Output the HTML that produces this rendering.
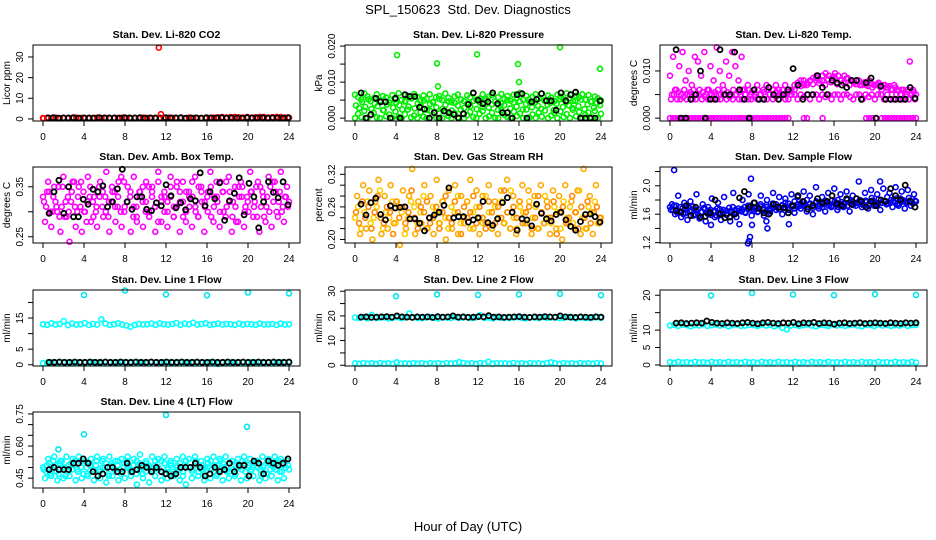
<!DOCTYPE html>
<html><head><meta charset="utf-8"><style>
body{margin:0;background:#fff;}
svg{display:block;font-family:"Liberation Sans",sans-serif;}
</style></head><body>
<svg id="chart" width="936" height="540" viewBox="0 0 936 540" xmlns="http://www.w3.org/2000/svg">
<rect width="936" height="540" fill="#fff"/>
<text x="468" y="14" text-anchor="middle" font-size="13" style="white-space:pre">SPL_150623  Std. Dev. Diagnostics</text>
<text x="468" y="531" text-anchor="middle" font-size="13">Hour of Day (UTC)</text>
</svg>
<script>
const hourTicks=[0,4,8,12,16,20,24];
const panelTitles=["Stan. Dev. Li-820 CO2","Stan. Dev. Li-820 Pressure","Stan. Dev. Li-820 Temp.","Stan. Dev. Amb. Box Temp.","Stan. Dev. Gas Stream RH","Stan. Dev. Sample Flow","Stan. Dev. Line 1 Flow","Stan. Dev. Line 2 Flow","Stan. Dev. Line 3 Flow","Stan. Dev. Line 4 (LT) Flow"];
const yTitles=["Licor ppm","kPa","degrees C","degrees C","percent","ml/min","ml/min","ml/min","ml/min","ml/min"];
const yLims=[[-1,35.8],[-0.0008,0.0203],[-0.0006,0.0155],[0.2375,0.3896],[0.1935,0.3335],[1.195,2.264],[-0.4,24],[-0.3,30.5],[-0.3,21.5],[0.404,0.759]];
const yTicks=[[0,10,20,30],[0,0.005,0.01,0.015,0.02],[0,0.005,0.01],[0.25,0.3,0.35],[0.2,0.22,0.24,0.26,0.28,0.3,0.32],[1.2,1.4,1.6,1.8,2.0,2.2],[0,5,10,15,20],[0,5,10,15,20,25,30],[0,5,10,15,20],[0.45,0.5,0.55,0.6,0.65,0.7,0.75]];
const yTickLabels=[["0","10","20","30"],["0.000","","0.010","","0.020"],["0.000","","0.010"],["0.25","","0.35"],["0.20","","","0.26","","","0.32"],["1.2","","1.6","","2.0",""],["0","5","","15",""],["0","","10","","20","","30"],["0","5","10","","20"],["0.45","","","0.60","","","0.75"]];

const co2Red=[0.4,0.5,0.3,0.6,0.4,0.5,0.3,0.4,0.6,0.5,0.4,0.3,0.5,0.6,0.4,0.5,0.3,0.4,0.5,0.6,0.4,0.3,0.5,0.4,0.6,0.5,0.4,0.3,0.5,0.4,0.6,0.5,0.4,0.5,0.3,0.6,0.4,0.5,0.4,0.3,0.5,0.6,0.8,0.9,0.7,0.9,1.0,0.8,0.7,0.9,0.6,0.8,1.0,0.9,0.7,0.8,1.0,0.9,0.7,0.6];
const co2Black=[0.5,0.6,0.4,0.5,0.5,0.6,0.4,0.5,0.5,0.4,0.6,0.5,0.5,0.5,0.4,0.6,0.5,0.5,0.6,0.4,0.5,0.5,0.4,0.6,0.5,0.5,0.6,0.4,0.5,0.5,0.4,0.6,0.5,0.5,0.6,0.4,0.5,0.5,0.4,0.6,0.5,0.5,0.6,0.4,0.5,0.5,0.4,0.6];
const co2OutHours=[11.3,11.5,0.05];
const co2OutVals=[34.5,2.3,0.3];

const pressGreenA=[0.0065,0.0058,0.0052,0.0068,0.0060,0.0047,0.0055,0.0066,0.0049,0.0061,0.0057,0.0043,0.0064,0.0052,0.0069,0.0050,0.0046,0.0062,0.0055,0.0067,0.0059,0.0048,0.0063,0.0053,0.0066,0.0045,0.0058,0.0061,0.0050,0.0068,0.0056,0.0044,0.0060,0.0065,0.0052,0.0047,0.0063,0.0057,0.0069,0.0051,0.0054,0.0066,0.0049,0.0060,0.0064,0.0046,0.0058,0.0067,0.0053,0.0061,0.0048,0.0065,0.0056,0.0070,0.0051,0.0062,0.0045,0.0059,0.0066,0.0054,0.0068,0.0050,0.0063,0.0057,0.0047,0.0065,0.0060,0.0052,0.0069,0.0055,0.0048,0.0062,0.0058,0.0066,0.0051,0.0064,0.0046,0.0060,0.0055,0.0049];
const pressGreenB=[0.0000,0.0012,0.0003,0.0020,0.0000,0.0008,0.0015,0.0002,0.0000,0.0022,0.0005,0.0010,0.0000,0.0018,0.0003,0.0000,0.0011,0.0024,0.0002,0.0007,0.0000,0.0016,0.0004,0.0000,0.0021,0.0009,0.0001,0.0013,0.0000,0.0019,0.0006,0.0000,0.0014,0.0002,0.0023,0.0000,0.0008,0.0017,0.0003,0.0000,0.0012,0.0020,0.0000,0.0005,0.0015,0.0001,0.0000,0.0022,0.0009,0.0003,0.0000,0.0018,0.0006,0.0013,0.0000,0.0024,0.0002,0.0010,0.0000,0.0016,0.0004,0.0021,0.0000,0.0007,0.0014,0.0000,0.0019,0.0003,0.0011,0.0000,0.0023,0.0005,0.0017,0.0000,0.0009,0.0015,0.0002,0.0020,0.0000,0.0012];
const pressGreenC=[0.0035,0.0028,0.0045,0.0031,0.0052,0.0025,0.0040,0.0033,0.0048,0.0022,0.0038,0.0050,0.0029,0.0043,0.0036,0.0024,0.0047,0.0032,0.0055,0.0027,0.0041,0.0034,0.0049,0.0023,0.0039,0.0044,0.0030,0.0053,0.0026,0.0037,0.0046,0.0021,0.0042,0.0035,0.0051,0.0028,0.0040,0.0033,0.0048,0.0025,0.0044,0.0031,0.0054,0.0029,0.0038,0.0046,0.0023,0.0041,0.0036,0.0050,0.0027,0.0043,0.0032,0.0047,0.0024,0.0039,0.0052,0.0030,0.0045,0.0034,0.0026,0.0049,0.0037,0.0042,0.0022,0.0040,0.0053,0.0031,0.0044,0.0035,0.0028,0.0048,0.0033,0.0051,0.0025,0.0038,0.0046,0.0029,0.0042,0.0036];
const pressBlack=[0.007,0.000,0.001,0.0055,0.0045,0.0045,0.000,0.0055,0.000,0.0065,0.006,0.006,0.003,0.0025,0.000,0.0015,0.000,0.002,0.0015,0.001,0.000,0.0012,0.0038,0.007,0.005,0.004,0.0045,0.007,0.004,0.0015,0.0015,0.000,0.0065,0.0068,0.000,0.0045,0.0052,0.0068,0.0048,0.0048,0.0022,0.007,0.0048,0.0065,0.0072,0.000,0.000,0.000,0.000,0.0048];
const pressOutHours=[4.1,8.0,8.1,11.9,15.9,16.0,20.0,23.9];
const pressOutVals=[0.0175,0.0152,0.0088,0.0177,0.0150,0.0100,0.0197,0.0137];

const tempMagA=[0,0,0,0,0,0,0,0,0,0,0,0,0,0,0,0,0,0,0,0,0,0,0,0,0,0,0,0,0,0,0,0,0,0,0,0,0,0,0,null,null,null,null,0,0,null,null,null,null,0,null,null,null,null,null,null,null,null,null,null,null,null,null,0,0,0,null,null,0,0,0,0,0,0,0,0,0,0,0,0];
const tempMagB=[0.004,0.005,0.004,0.004,0.0045,0.004,0.005,0.004,0.004,0.005,0.004,0.0045,0.004,0.004,0.005,0.004,0.004,0.005,0.004,0.0045,0.004,0.005,0.004,0.004,0.005,0.004,0.004,0.0045,0.004,0.005,0.004,0.004,0.005,0.004,0.0045,0.004,0.005,0.004,0.004,0.005,0.005,0.004,0.005,0.0045,0.005,0.004,0.005,0.005,0.004,0.005,0.0045,0.005,0.004,0.005,0.005,0.004,0.005,0.005,0.0045,0.004,0.005,0.005,0.004,0.005,0.0045,0.005,0.004,0.005,0.005,0.004,0.005,0.004,0.004,0.005,0.004,0.004,0.005,0.004,0.005,0.004];
const tempMagC=[0.009,0.013,0.006,0.011,0.014,0.008,0.010,0.007,0.013,0.012,0.009,0.014,0.006,0.011,0.008,0.015,0.010,0.007,0.012,0.009,0.014,0.011,0.008,0.013,0.006,0.007,0.005,0.006,0.007,0.005,0.006,0.007,0.005,0.006,0.007,0.006,0.005,0.007,0.006,0.005,0.006,0.007,0.008,0.007,0.0075,0.008,0.0085,0.009,0.008,0.009,0.0095,0.009,0.0085,0.0095,0.009,0.008,0.009,0.0085,0.008,0.0075,0.008,0.007,0.0075,0.007,0.008,0.0065,0.007,0.0075,0.006,0.007,0.0065,0.006,0.007,0.006,0.005,0.006,0.005,0.012,0.006,0.005];
const tempMagD=[0.005,0.006,0.0055,0.005,0.006,0.005,0.0055,0.006,0.005,0.006,0.0055,0.005,0.006,0.005,0.0055,0.006,0.005,0.006,0.0055,0.005,0.006,0.005,0.0055,0.006,0.005,0.006,0.0055,0.005,0.006,0.005,0.0055,0.006,0.005,0.006,0.0055,0.005,0.006,0.005,0.0055,0.006,0.007,0.0075,0.0068,0.008,0.007,0.0078,0.0072,0.0085,0.0074,0.008,0.007,0.0082,0.0076,0.0088,0.0072,0.008,0.0075,0.0084,0.007,0.0078,0.0072,0.008,0.007,0.0076,0.0068,0.0074,0.007,0.0072,0.0066,0.007,0.0065,0.0068,0.006,0.0065,0.0058,0.006,0.0055,0.006,0.0052,0.0055];
const tempBlack=[0.0145,0.0,0.0,0.004,0.005,0.010,0.0,0.004,0.004,0.0145,0.005,0.005,0.014,0.006,0.004,0.0,0.006,0.004,0.004,0.0065,0.005,0.004,0.005,0.006,0.0105,0.007,0.004,0.005,0.005,0.009,0.0065,0.005,0.008,0.0075,0.007,0.0065,0.008,0.008,0.004,0.0075,0.0085,0.0,0.0068,0.004,0.004,0.004,0.004,0.004,0.0065,0.0042];

const ambMagA=[0.33,0.31,0.34,0.30,0.32,0.35,0.31,0.29,0.33,0.32,0.36,0.30,0.31,0.34,0.28,0.33,0.32,0.30,0.35,0.31,0.33,0.29,0.32,0.34,0.31,0.30,0.36,0.32,0.33,0.29,0.31,0.34,0.32,0.30,0.35,0.33,0.31,0.28,0.32,0.34,0.30,0.33,0.31,0.36,0.32,0.29,0.34,0.31,0.33,0.30,0.35,0.32,0.31,0.34,0.29,0.33,0.32,0.36,0.30,0.31,0.34,0.32,0.28,0.33,0.35,0.31,0.30,0.34,0.32,0.36,0.31,0.29,0.33,0.35,0.32,0.30,0.34,0.31,0.33,0.32];
const ambMagB=[0.32,0.34,0.30,0.33,0.31,0.29,0.35,0.32,0.30,0.34,0.31,0.33,0.36,0.30,0.32,0.35,0.29,0.31,0.33,0.34,0.30,0.32,0.35,0.31,0.33,0.37,0.30,0.32,0.34,0.31,0.29,0.33,0.35,0.32,0.30,0.34,0.31,0.36,0.33,0.30,0.32,0.35,0.29,0.31,0.34,0.32,0.30,0.33,0.36,0.31,0.29,0.34,0.32,0.30,0.35,0.31,0.33,0.30,0.34,0.36,0.32,0.29,0.31,0.35,0.33,0.30,0.32,0.34,0.31,0.29,0.35,0.33,0.31,0.30,0.36,0.34,0.32,0.30,0.33,0.31];
const ambMagC=[0.28,0.36,0.27,0.35,0.30,0.26,0.37,0.29,0.24,0.36,0.27,0.35,0.26,0.30,0.37,0.28,0.33,0.27,0.36,0.29,0.38,0.26,0.34,0.28,0.36,0.27,0.31,0.35,0.26,0.37,0.28,0.34,0.27,0.36,0.29,0.35,0.26,0.38,0.28,0.33,0.27,0.37,0.29,0.35,0.26,0.36,0.28,0.34,0.27,0.37,0.29,0.35,0.26,0.33,0.38,0.28,0.36,0.27,0.34,0.29,0.37,0.26,0.35,0.28,0.36,0.27,0.33,0.38,0.29,0.35,0.26,0.34,0.28,0.37,0.27,0.36,0.29,0.38,0.28,0.35];
const ambBlack=[0.297,0.340,0.363,0.297,0.350,0.290,0.290,0.325,0.315,0.345,0.340,0.352,0.310,0.320,0.346,0.385,0.320,0.305,0.330,0.330,0.305,0.302,0.318,0.312,0.354,0.332,0.308,0.318,0.304,0.326,0.322,0.378,0.312,0.340,0.326,0.358,0.283,0.322,0.337,0.368,0.294,0.357,0.330,0.268,0.320,0.360,0.339,0.328,0.360,0.314];

const rhOrangeA=[0.25,0.23,0.27,0.24,0.26,0.22,0.25,0.28,0.24,0.23,0.26,0.25,0.21,0.27,0.24,0.26,0.23,0.25,0.29,0.24,0.22,0.26,0.25,0.27,0.23,0.24,0.26,0.22,0.25,0.28,0.24,0.23,0.27,0.25,0.21,0.26,0.24,0.25,0.28,0.23,0.26,0.24,0.22,0.27,0.25,0.23,0.26,0.24,0.29,0.25,0.22,0.26,0.24,0.27,0.23,0.25,0.26,0.22,0.24,0.28,0.25,0.23,0.26,0.24,0.27,0.21,0.25,0.26,0.23,0.24,0.28,0.25,0.22,0.26,0.24,0.27,0.23,0.25,0.26,0.24];
const rhYellowB=[0.24,0.26,0.22,0.25,0.27,0.23,0.24,0.26,0.29,0.22,0.25,0.24,0.27,0.23,0.26,0.25,0.21,0.24,0.27,0.26,0.23,0.25,0.28,0.22,0.24,0.26,0.25,0.23,0.27,0.24,0.22,0.26,0.25,0.28,0.23,0.24,0.27,0.22,0.25,0.26,0.24,0.23,0.28,0.25,0.22,0.26,0.24,0.27,0.23,0.25,0.29,0.24,0.22,0.26,0.25,0.23,0.27,0.24,0.26,0.22,0.25,0.28,0.24,0.23,0.26,0.25,0.22,0.27,0.24,0.26,0.23,0.25,0.29,0.24,0.22,0.26,0.25,0.27,0.23,0.24];
const rhOrangeC=[0.28,0.21,0.30,0.22,0.29,0.20,0.27,0.31,0.21,0.28,0.22,0.30,0.23,0.27,0.19,0.29,0.22,0.28,0.33,0.21,0.27,0.23,0.30,0.22,0.28,0.21,0.31,0.23,0.27,0.20,0.29,0.22,0.30,0.21,0.28,0.23,0.27,0.31,0.22,0.29,0.21,0.28,0.23,0.30,0.22,0.27,0.21,0.29,0.23,0.31,0.22,0.28,0.21,0.27,0.30,0.23,0.29,0.21,0.28,0.22,0.30,0.23,0.27,0.21,0.29,0.22,0.28,0.20,0.30,0.23,0.27,0.22,0.29,0.21,0.33,0.22,0.28,0.21,0.30,0.23];
const rhBlack=[0.265,0.245,0.268,0.276,0.246,0.236,0.262,0.258,0.259,0.260,0.238,0.238,0.230,0.216,0.240,0.245,0.250,0.263,0.295,0.240,0.242,0.242,0.232,0.236,0.240,0.270,0.231,0.226,0.238,0.268,0.277,0.250,0.217,0.238,0.236,0.225,0.265,0.248,0.238,0.234,0.246,0.250,0.236,0.224,0.217,0.233,0.246,0.247,0.242,0.232];

const sampBlueA=[1.70,1.66,1.72,1.64,1.68,1.62,1.70,1.65,1.60,1.67,1.63,1.69,1.61,1.66,1.64,1.58,1.67,1.62,1.65,1.69,1.63,1.66,1.68,1.64,1.70,1.67,1.72,1.65,1.69,1.71,1.66,1.73,1.68,1.70,1.74,1.67,1.72,1.69,1.75,1.71,1.68,1.74,1.72,1.77,1.70,1.75,1.73,1.78,1.71,1.74,1.76,1.72,1.79,1.74,1.70,1.77,1.75,1.72,1.78,1.74,1.76,1.80,1.73,1.77,1.75,1.79,1.74,1.81,1.76,1.78,1.75,1.80,1.77,1.74,1.82,1.78,1.76,1.79,1.75,1.78];
const sampBlueB=[1.66,1.72,1.62,1.70,1.60,1.67,1.64,1.71,1.66,1.58,1.63,1.67,1.70,1.59,1.65,1.68,1.62,1.66,1.59,1.64,1.70,1.61,1.65,1.67,1.63,1.72,1.66,1.69,1.63,1.74,1.68,1.70,1.65,1.75,1.70,1.67,1.73,1.76,1.69,1.72,1.78,1.70,1.75,1.72,1.80,1.74,1.69,1.77,1.74,1.70,1.79,1.75,1.72,1.78,1.80,1.74,1.71,1.80,1.76,1.73,1.82,1.77,1.75,1.79,1.72,1.83,1.77,1.74,1.80,1.78,1.84,1.76,1.79,1.82,1.75,1.80,1.78,1.83,1.77,1.79];
const sampBlueC=[1.74,1.60,1.86,1.56,1.76,1.52,1.78,1.58,1.88,1.54,1.74,1.50,1.60,1.82,1.56,1.76,1.52,1.84,1.60,1.50,1.90,1.56,1.46,1.80,1.62,1.88,1.58,1.76,1.64,1.86,1.58,1.80,1.62,1.90,1.66,1.84,1.60,1.82,1.66,1.88,1.62,1.84,1.68,1.92,1.64,1.86,1.60,1.98,1.68,1.84,1.64,1.90,1.70,1.96,1.66,1.88,1.70,1.92,1.64,1.86,1.72,2.06,1.70,1.90,1.68,1.94,1.72,1.88,1.66,1.96,1.74,1.90,1.70,1.98,1.72,1.92,1.68,1.94,1.72,1.88];
const sampOutHours=[0.4,7.7,7.6,7.8,7.9,9.5,9.4,11.6,4.0,8.0,20.5];
const sampOutVals=[2.22,1.22,1.19,1.28,2.10,1.40,1.50,1.46,1.45,1.45,2.06];
const sampBlack=[1.65,1.63,1.72,1.58,1.70,1.56,1.57,1.62,1.80,1.60,1.55,1.56,1.60,1.83,1.92,1.70,1.76,1.68,1.62,1.60,1.74,1.70,1.69,1.62,1.72,1.86,1.78,1.67,1.72,1.82,1.76,1.78,1.86,1.75,1.72,1.82,1.74,1.82,1.78,1.70,1.78,1.72,1.80,1.78,1.96,1.86,1.80,2.01,1.78,1.70];

const line1Cyan=[13.0,12.8,13.3,12.9,13.1,14.0,12.7,13.2,12.9,13.0,13.4,12.8,13.1,12.9,14.6,13.2,12.8,13.0,13.3,12.9,12.6,12.2,12.8,13.1,12.9,13.0,13.2,12.8,13.3,13.0,12.9,13.1,13.4,12.8,13.2,13.0,13.5,12.9,13.1,13.3,12.8,13.0,13.2,12.9,13.1,13.0,12.8,13.2,12.9,13.1,13.0,12.8,13.2,12.9,13.0,13.1,12.8,13.2,12.9,13.0];
const line1CyanLow=[0.5,0.7,0.8,0.6,0.7,0.8,0.7,0.6,0.8,0.7,0.7,0.6,0.8,0.7,0.6,0.8,0.7,0.7,0.6,0.8,0.7,0.6,0.8,0.7,0.7,0.6,0.8,0.7,0.6,0.8,0.7,0.7,0.6,0.8,0.7,0.6,0.8,0.7,0.7,0.6,0.8,0.7,0.2,0.8,0.7,0.7,0.6,0.8,0.7,0.6,0.8,0.7,0.7,0.6,0.8,0.7,0.6,0.8,0.7,0.7];
const line1Black=[0.8,0.8,0.9,0.8,0.8,0.9,0.8,0.8,0.9,0.8,0.8,0.9,0.8,0.8,0.9,0.8,0.8,0.9,0.8,0.8,0.9,0.8,0.8,0.9,0.8,0.8,0.9,0.8,0.8,0.9,0.8,0.8,0.9,0.8,0.8,0.9,0.8,0.8,0.9,0.8,0.8,0.9,0.8,0.8,0.9,0.8,0.8,0.9];
const line1OutHours=[4.0,8.0,12.0,16.0,20.0,24.0];
const line1OutVals=[22.4,23.8,22.6,22.3,23.2,22.9];

const line2Cyan=[19.3,19.2,19.5,19.0,20.4,19.1,19.3,19.4,19.0,19.2,19.5,19.1,19.3,21.0,19.4,19.2,19.1,19.3,19.5,19.2,19.0,19.4,19.3,19.1,19.6,19.2,19.3,19.5,19.1,19.4,20.3,19.2,19.3,19.0,19.5,19.2,19.4,19.1,19.3,19.5,19.2,19.0,19.4,19.3,19.1,19.5,19.2,19.3,19.4,19.1,19.2,19.5,19.3,19.0,19.4,19.2,19.1,19.3,19.5,19.2];
const line2CyanLow=[0.8,0.6,0.9,0.7,0.8,0.6,0.9,0.7,0.8,0.6,1.2,0.7,0.8,0.6,0.9,0.7,0.8,0.6,0.9,0.7,0.8,0.6,0.9,0.7,0.8,1.3,0.9,0.7,0.8,0.6,0.9,0.7,1.4,0.6,0.9,0.7,0.8,0.6,0.9,0.7,0.8,0.6,0.9,0.7,0.8,0.6,0.9,1.2,0.8,0.6,0.9,0.7,0.8,0.6,0.9,0.7,0.8,0.6,0.9,0.7];
const line2Black=[19.5,19.6,19.4,19.5,19.6,19.7,19.5,20.0,19.6,19.5,19.4,19.6,19.5,19.6,19.4,19.7,19.5,19.6,20.0,19.5,19.6,19.4,19.5,19.7,19.6,20.1,19.5,19.6,19.4,19.5,19.6,19.7,19.5,19.4,19.6,19.5,19.7,19.6,19.5,20.0,19.6,19.5,19.4,19.6,19.5,19.4,19.6,19.5];
const line2OutHours=[4.0,8.0,12.0,16.0,20.0,24.0];
const line2OutVals=[28.0,28.7,28.5,28.7,28.9,28.4];

const line3Cyan=[11.3,11.5,11.2,11.6,11.4,11.1,11.5,11.3,11.7,11.2,11.4,11.6,11.3,11.5,11.1,11.4,11.6,11.2,11.3,11.5,11.4,11.2,11.6,11.3,11.5,11.1,11.4,10.6,10.2,11.3,11.5,11.2,11.4,11.6,11.3,11.1,11.5,11.4,11.2,11.6,11.3,11.5,11.2,11.4,11.6,11.3,11.1,11.5,11.4,11.2,11.6,11.3,11.5,11.2,11.4,11.3,11.6,11.2,11.4,11.5];
const line3CyanLow=[0.8,0.6,0.9,0.7,0.8,0.6,0.9,0.7,0.8,0.6,0.9,0.7,0.8,0.6,0.9,0.7,0.8,0.6,0.9,0.7,0.8,0.6,0.9,0.7,0.8,0.6,0.9,0.7,0.8,0.6,0.9,0.7,0.8,0.6,0.9,0.7,0.8,0.6,0.9,0.7,0.8,0.6,0.9,0.7,0.8,0.6,0.9,0.7,0.8,0.6,0.9,0.7,0.8,0.6,0.9,0.7,0.8,0.6,0.9,0.7];
const line3Black=[12.0,12.1,11.9,12.0,12.1,12.0,12.6,12.2,12.0,11.9,12.1,12.0,11.9,12.1,12.2,12.0,11.8,12.1,12.2,12.0,11.9,12.1,12.0,12.2,11.8,12.1,12.0,12.2,11.9,12.1,12.0,11.7,12.0,12.1,11.9,12.0,12.1,11.9,12.0,12.1,12.0,11.9,12.1,12.0,11.9,12.1,12.0,12.1];
const line3OutHours=[4.0,8.0,12.0,16.0,20.0,24.0];
const line3OutVals=[19.9,20.6,20.2,20.0,20.3,20.1];

const line4CyanA=[0.50,0.48,0.52,0.49,0.51,0.47,0.53,0.50,0.48,0.52,0.51,0.49,0.53,0.47,0.50,0.52,0.48,0.51,0.49,0.53,0.50,0.47,0.52,0.49,0.51,0.48,0.50,0.53,0.49,0.51,0.47,0.52,0.50,0.48,0.51,0.49,0.53,0.50,0.48,0.52,0.49,0.51,0.47,0.50,0.52,0.48,0.51,0.50,0.49,0.53,0.48,0.51,0.50,0.52,0.49,0.51,0.47,0.53,0.50,0.48,0.52,0.49,0.51,0.50,0.53,0.48,0.51,0.49,0.52,0.50,0.47,0.51,0.53,0.49,0.50,0.52,0.48,0.51,0.50,0.49];
const line4CyanB=[0.49,0.51,0.47,0.53,0.48,0.52,0.50,0.46,0.51,0.49,0.53,0.48,0.50,0.52,0.47,0.51,0.49,0.53,0.48,0.50,0.52,0.46,0.51,0.49,0.53,0.47,0.52,0.50,0.48,0.51,0.53,0.49,0.47,0.52,0.50,0.48,0.51,0.49,0.53,0.47,0.50,0.52,0.48,0.51,0.49,0.46,0.53,0.50,0.48,0.52,0.51,0.49,0.47,0.50,0.53,0.48,0.51,0.49,0.52,0.50,0.48,0.53,0.47,0.51,0.49,0.52,0.50,0.48,0.51,0.53,0.49,0.50,0.47,0.52,0.51,0.49,0.53,0.48,0.50,0.51];
const line4CyanC=[0.45,0.54,0.46,0.55,0.44,0.53,0.45,0.55,0.46,0.54,0.44,0.55,0.45,0.53,0.46,0.54,0.44,0.55,0.45,0.54,0.43,0.55,0.46,0.53,0.44,0.54,0.45,0.55,0.46,0.54,0.42,0.56,0.45,0.53,0.43,0.55,0.46,0.54,0.44,0.55,0.45,0.53,0.46,0.54,0.44,0.55,0.42,0.54,0.45,0.55,0.46,0.53,0.44,0.54,0.45,0.55,0.46,0.54,0.44,0.55,0.45,0.53,0.46,0.54,0.44,0.55,0.45,0.54,0.46,0.53,0.44,0.55,0.45,0.54,0.46,0.55,0.44,0.54,0.45,0.53];
const line4OutHours=[1.5,4.0,12.0,19.9];
const line4OutVals=[0.585,0.655,0.745,0.690];
const line4Black=[0.49,0.50,0.49,0.49,0.49,0.52,0.52,0.54,0.52,0.48,0.46,0.47,0.50,0.50,0.48,0.48,0.52,0.48,0.49,0.51,0.50,0.48,0.50,0.48,0.47,0.46,0.47,0.50,0.50,0.50,0.52,0.50,0.46,0.47,0.50,0.48,0.49,0.52,0.48,0.51,0.51,0.46,0.53,0.52,0.47,0.53,0.52,0.51,0.52,0.54];

const panelSeries=[
 [[co2Red,0,24,"#ff0000"],[co2Black,0.5,23.9,"#000"],[co2OutVals,co2OutHours,null,"#ff0000"]],
 [[pressGreenA,0,24,"#00ee00"],[pressGreenC,0.1,23.9,"#00ee00"],[pressGreenB,0,24,"#00ee00"],[pressOutVals,pressOutHours,null,"#00ee00"],[pressBlack,0.6,23.9,"#000"]],
 [[tempMagA,0,24,"#ff00ff"],[tempMagB,0.1,23.9,"#ff00ff"],[tempMagD,0.2,23.8,"#ff00ff"],[tempMagC,0,24,"#ff00ff"],[tempBlack,0.6,23.9,"#000"]],
 [[ambMagA,0,24,"#ff00ff"],[ambMagB,0.1,23.9,"#ff00ff"],[ambMagC,0.2,23.8,"#ff00ff"],[ambBlack,0.6,23.9,"#000"]],
 [[rhYellowB,0,24,"#ffcc00"],[rhOrangeA,0.1,23.9,"#ff8800"],[rhOrangeC,0.2,23.8,"#ffaa00"],[rhBlack,0.6,23.9,"#000"]],
 [[sampBlueA,0,24,"#0000ee"],[sampBlueB,0.1,23.9,"#0000ee"],[sampBlueC,0.2,23.8,"#0000ee"],[sampOutVals,sampOutHours,null,"#0000ee"],[sampBlack,0.6,23.9,"#000"]],
 [[line1Cyan,0,24,"#00ffff"],[line1CyanLow,0,24,"#00ffff"],[line1Black,0.6,24,"#000"],[line1OutVals,line1OutHours,null,"#00e5ee"]],
 [[line2Cyan,0,24,"#00ffff"],[line2CyanLow,0,24,"#00ffff"],[line2Black,0.6,24,"#000"],[line2OutVals,line2OutHours,null,"#00e5ee"]],
 [[line3Cyan,0,24,"#00ffff"],[line3CyanLow,0,24,"#00ffff"],[line3Black,0.6,24,"#000"],[line3OutVals,line3OutHours,null,"#00e5ee"]],
 [[line4CyanA,0,24,"#00ffff"],[line4CyanB,0.1,23.9,"#00ffff"],[line4CyanC,0.2,23.8,"#00ffff"],[line4OutVals,line4OutHours,null,"#00e5ee"],[line4Black,0.6,23.9,"#000"]]
];

const NS="http://www.w3.org/2000/svg";
const svg=document.getElementById("chart");
const colLeft=[33,345,660], rowTop=[45,167,290,412], boxW=267, boxH=76;
function mk(tag,attrs,parent){const e=document.createElementNS(NS,tag);for(const k in attrs)e.setAttribute(k,attrs[k]);parent.appendChild(e);return e;}
function slug(s){return s.toLowerCase().replace(/[^a-z0-9]+/g,'-').replace(/^-|-$/g,'');}

panelTitles.forEach((title,p)=>{
  const L=colLeft[p%3], T=rowTop[Math.floor(p/3)], B=T+boxH;
  const xs=h=>L+10+h/24*246;
  const [y0,y1]=yLims[p];
  const ys=v=>B-(v-y0)/(y1-y0)*boxH;
  const g=mk("g",{},svg);
  
  
  const t=mk("text",{x:L+boxW/2,y:T-7,"text-anchor":"middle","font-size":"10.5","font-weight":"bold"},g);
  t.textContent=title;
  
  
  const pts=mk("g",{fill:"none"},g);
  
  
  panelSeries[p].forEach(s=>{
    const vals=s[0];
    const sw=s[3]==="#000"?"1.8":"1.6";
    vals.forEach((v,i)=>{
      if(v===null)return;
      const h=Array.isArray(s[1])?s[1][i]:s[1]+(s[2]-s[1])*i/(vals.length-1);
      const c=mk("circle",{cx:xs(h).toFixed(1),cy:ys(v).toFixed(1),r:"2.5",stroke:s[3],"stroke-width":sw},pts);
      
      
    });
  });
  const box=mk("rect",{x:L,y:T,width:boxW,height:boxH,fill:"none",stroke:"#000","stroke-width":"1"},g);
  
  
  const xa=mk("g",{},g);
  
  
  mk("line",{x1:xs(0),x2:xs(24),y1:B,y2:B,stroke:"#000"},xa);
  hourTicks.forEach(h=>{
    mk("line",{x1:xs(h),x2:xs(h),y1:B,y2:B+5,stroke:"#000"},xa);
    const tl=mk("text",{x:xs(h),y:B+19,"text-anchor":"middle","font-size":"10"},xa);
    tl.textContent=h;
    
    
  });
  const ya=mk("g",{},g);
  
  
  const tk=yTicks[p];
  mk("line",{x1:L,x2:L,y1:ys(tk[0]),y2:ys(tk[tk.length-1]),stroke:"#000"},ya);
  tk.forEach((v,i)=>{
    const y=ys(v);
    mk("line",{x1:L-5,x2:L,y1:y,y2:y,stroke:"#000"},ya);
    const lab=yTickLabels[p][i];
    if(lab){
      const tl=mk("text",{x:L-10,y:y,"text-anchor":"middle","font-size":"10",transform:`rotate(-90 ${L-10} ${y})`},ya);
      tl.textContent=lab;
      
      
    }
  });
  const yt=mk("text",{x:L-23,y:T+boxH/2,"text-anchor":"middle","font-size":"10",transform:`rotate(-90 ${L-23} ${T+boxH/2})`},g);
  yt.textContent=yTitles[p];
  
  
});
</script>
</body></html>
